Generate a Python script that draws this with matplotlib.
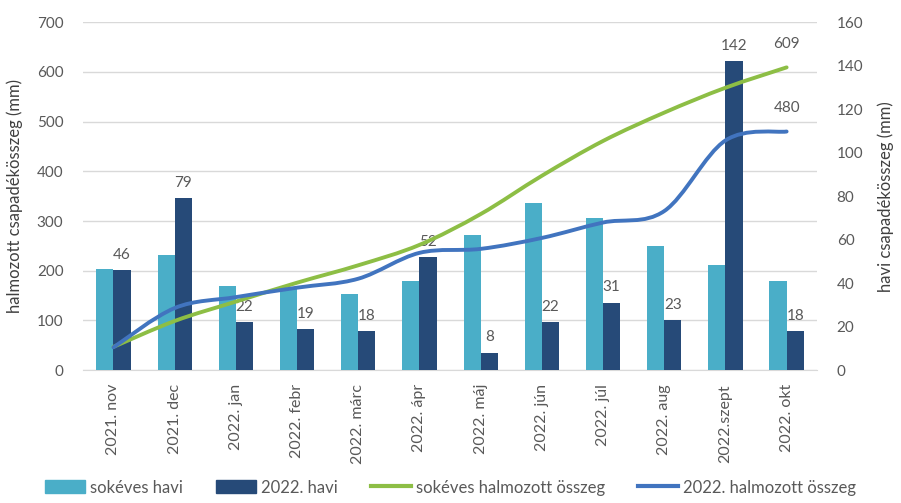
import matplotlib
matplotlib.use("Agg")
import matplotlib.pyplot as plt
from matplotlib.path import Path
from matplotlib.patches import PathPatch, Patch
from matplotlib.lines import Line2D
import numpy as np

months = ['2021. nov', '2021. dec', '2022. jan', '2022. febr', '2022. márc', '2022. ápr',
          '2022. máj', '2022. jún', '2022. júl', '2022. aug', '2022.szept', '2022. okt']
longterm_monthly = [46.5, 53, 38.5, 38, 35, 41, 62, 77, 70, 57, 48.5, 41]
monthly_2022 = [46, 79, 22, 19, 18, 52, 8, 22, 31, 23, 142, 18]
longterm_cum = [47, 99, 138, 176, 211, 252, 314, 391, 461, 518, 568, 609]
cum_2022 = [46, 125, 147, 166, 184, 236, 244, 266, 297, 320, 462, 480]

c_light = '#4AAEC8'
c_dark = '#264A78'
c_green = '#8DBE45'
c_blue = '#4174BF'
c_text = '#595959'

plt.rcParams['font.family'] = ['Lato', 'DejaVu Sans']
plt.rcParams['font.size'] = 11


def smooth_path(xs, ys):
    # Catmull-Rom style cubic Bezier, like Excel's smoothed lines
    pts = np.column_stack([xs, ys]).astype(float)
    n = len(pts)
    verts = [pts[0]]
    codes = [Path.MOVETO]
    for i in range(n - 1):
        p0 = pts[i - 1] if i > 0 else pts[i]
        p1 = pts[i]
        p2 = pts[i + 1]
        p3 = pts[i + 2] if i + 2 < n else pts[i + 1]
        verts += [p1 + (p2 - p0) / 6, p2 - (p3 - p1) / 6, p2]
        codes += [Path.CURVE4] * 3
    return Path(verts, codes)


fig = plt.figure(figsize=(9.01, 5.03), dpi=100)
ax = fig.add_axes([0.092, 0.264, 0.815, 0.692])
ax_bars = ax.twinx()
ax_lines = ax.twinx()

x = np.arange(len(months))
w = 0.28

# left axis: cumulative scale, grid
ax.set_ylim(0, 700)
ax.set_yticks(range(0, 701, 100))
ax.grid(axis='y', color='#D9D9D9', linewidth=1)
ax.set_axisbelow(True)
ax.set_ylabel('halmozott csapadékösszeg (mm)', color='#404040', fontsize=12, labelpad=10)

# bars on the right axis
ax_bars.bar(x - w / 2, longterm_monthly, w, color=c_light)
ax_bars.bar(x + w / 2, monthly_2022, w, color=c_dark)
ax_bars.set_ylim(0, 160)
ax_bars.set_yticks(range(0, 161, 20))
ax_bars.set_ylabel('havi csapadékösszeg (mm)', color='#404040', fontsize=12, labelpad=10)
for xi, v in zip(x, monthly_2022):
    ax_bars.annotate(str(v), (xi + w / 2, v), xytext=(0, 6), textcoords='offset points',
                     ha='center', va='bottom', color=c_text, fontsize=11)

# smoothed cumulative lines
ax_lines.set_ylim(0, 700)
ax_lines.set_yticks([])
ax_lines.add_patch(PathPatch(smooth_path(x, longterm_cum), fill=False, edgecolor=c_green,
                             linewidth=2.8, capstyle='round'))
ax_lines.add_patch(PathPatch(smooth_path(x, cum_2022), fill=False, edgecolor=c_blue,
                             linewidth=2.8, capstyle='round'))
ax_lines.annotate(str(longterm_cum[-1]), (x[-1], longterm_cum[-1]), xytext=(0, 12),
                  textcoords='offset points', ha='center', va='bottom', color=c_text, fontsize=11)
ax_lines.annotate(str(cum_2022[-1]), (x[-1], cum_2022[-1]), xytext=(0, 12),
                  textcoords='offset points', ha='center', va='bottom', color=c_text, fontsize=11)

ax.set_xlim(-0.5, len(months) - 0.5)
ax.set_xticks(x)
ax.set_xticklabels(months, rotation=90)

for a in (ax, ax_bars, ax_lines):
    for s in a.spines.values():
        s.set_visible(False)
    a.tick_params(length=0, colors=c_text, labelsize=11)
ax.spines['bottom'].set_visible(True)
ax.spines['bottom'].set_color('#D9D9D9')
ax.tick_params(axis='y', pad=14)
ax_bars.tick_params(axis='y', pad=14)
ax.tick_params(axis='x', pad=10, labelsize=11.5)

handles = [Patch(color=c_light), Patch(color=c_dark),
           Line2D([], [], color=c_green, linewidth=3),
           Line2D([], [], color=c_blue, linewidth=3)]
labels = ['sokéves havi', '2022. havi', 'sokéves halmozott összeg', '2022. halmozott összeg']
fig.legend(handles, labels, loc='lower center', bbox_to_anchor=(0.5, -0.015), ncol=4,
           frameon=False, fontsize=12, handlelength=2.4, handleheight=0.8,
           columnspacing=2.0, handletextpad=0.3, labelcolor=c_text)

fig.savefig('out.png', dpi=100)
